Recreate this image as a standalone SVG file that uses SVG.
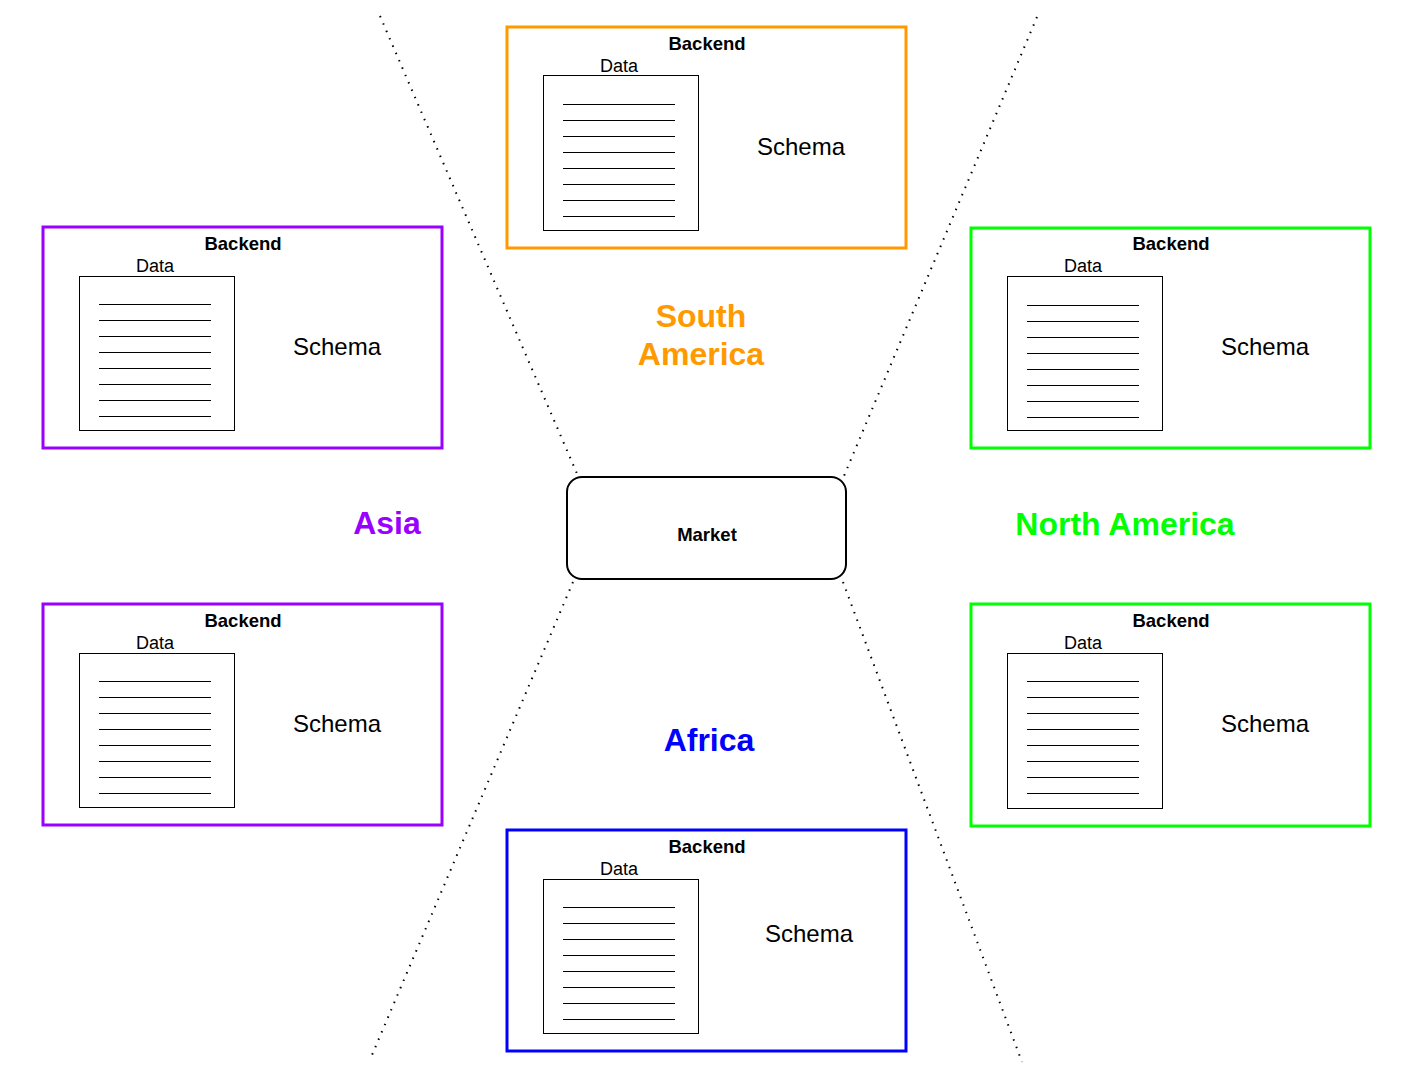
<svg xmlns="http://www.w3.org/2000/svg" width="1403" height="1072" viewBox="0 0 1403 1072">
<defs>
<style>
.bk{fill:#fff;stroke-width:3}
.db{fill:#fff;stroke:#000;stroke-width:1;shape-rendering:crispEdges}
.ln{stroke:#000;stroke-width:1;shape-rendering:crispEdges}
.t{font-family:"Liberation Sans",Arial,sans-serif;text-anchor:middle;fill:#000}
.b{font-weight:bold;font-size:18.5px}
.d{font-size:18px}
.s{font-size:24px}
.r{font-family:"Liberation Sans",Arial,sans-serif;text-anchor:middle;font-weight:bold;font-size:32px}
.dot{stroke:#000;stroke-width:2;stroke-dasharray:1.5 6.5;fill:none}
</style>
<g id="lines">
<line class="ln" x1="20" y1="29" x2="132" y2="29"/>
<line class="ln" x1="20" y1="45" x2="132" y2="45"/>
<line class="ln" x1="20" y1="61" x2="132" y2="61"/>
<line class="ln" x1="20" y1="77" x2="132" y2="77"/>
<line class="ln" x1="20" y1="93" x2="132" y2="93"/>
<line class="ln" x1="20" y1="109" x2="132" y2="109"/>
<line class="ln" x1="20" y1="125" x2="132" y2="125"/>
<line class="ln" x1="20" y1="141" x2="132" y2="141"/>
</g>
</defs>
<rect width="1403" height="1072" fill="#fff"/>
<g id="connectors">
<line class="dot" x1="380" y1="16" x2="578" y2="476"/>
<line class="dot" x1="1037" y1="17" x2="844" y2="476"/>
<line class="dot" x1="573" y1="582" x2="372" y2="1055"/>
<line class="dot" x1="843" y1="582" x2="1022" y2="1062"/>
</g>
<g id="backend-south-america" transform="translate(507,27)">
<rect class="bk" x="0" y="0" width="399" height="221" stroke="#FF9900"/>
<text class="t b" x="200" y="23">Backend</text>
<text class="t d" x="112" y="45">Data</text>
<rect class="db" x="36" y="48" width="155" height="155"/>
<use href="#lines" x="36" y="48"/>
<text class="t s" x="294" y="128">Schema</text>
</g>
<g id="backend-asia-1" transform="translate(43,227)">
<rect class="bk" x="0" y="0" width="399" height="221" stroke="#9900FF"/>
<text class="t b" x="200" y="23">Backend</text>
<text class="t d" x="112" y="45">Data</text>
<rect class="db" x="36" y="49" width="155" height="154"/>
<use href="#lines" x="36" y="48"/>
<text class="t s" x="294" y="128">Schema</text>
</g>
<g id="backend-north-america-1" transform="translate(971,228)">
<rect class="bk" x="0" y="0" width="399" height="220" stroke="#00FF00"/>
<text class="t b" x="200" y="22">Backend</text>
<text class="t d" x="112" y="44">Data</text>
<rect class="db" x="36" y="48" width="155" height="154"/>
<use href="#lines" x="36" y="48"/>
<text class="t s" x="294" y="127">Schema</text>
</g>
<g id="backend-asia-2" transform="translate(43,604)">
<rect class="bk" x="0" y="0" width="399" height="221" stroke="#9900FF"/>
<text class="t b" x="200" y="23">Backend</text>
<text class="t d" x="112" y="45">Data</text>
<rect class="db" x="36" y="49" width="155" height="154"/>
<use href="#lines" x="36" y="48"/>
<text class="t s" x="294" y="128">Schema</text>
</g>
<g id="backend-north-america-2" transform="translate(971,604)">
<rect class="bk" x="0" y="0" width="399" height="222" stroke="#00FF00"/>
<text class="t b" x="200" y="23">Backend</text>
<text class="t d" x="112" y="45">Data</text>
<rect class="db" x="36" y="49" width="155" height="155"/>
<use href="#lines" x="36" y="48"/>
<text class="t s" x="294" y="128">Schema</text>
</g>
<g id="backend-africa" transform="translate(507,830)">
<rect class="bk" x="0" y="0" width="399" height="221" stroke="#0000FF"/>
<text class="t b" x="200" y="23">Backend</text>
<text class="t d" x="112" y="45">Data</text>
<rect class="db" x="36" y="49" width="155" height="154"/>
<use href="#lines" x="36" y="48"/>
<text class="t s" x="302" y="112">Schema</text>
</g>
<g id="market">
<rect x="567" y="477" width="279" height="102" rx="15" fill="#fff" stroke="#000" stroke-width="2"/>
<text class="t b" x="707" y="541">Market</text>
</g>
<g id="label-south-america">
<text class="r" x="701" y="327" fill="#FF9900">South</text>
<text class="r" x="701" y="365" fill="#FF9900">America</text>
</g>
<g id="label-asia"><text class="r" x="387" y="534" fill="#9900FF">Asia</text></g>
<g id="label-north-america"><text class="r" x="1125" y="535" fill="#00FF00">North America</text></g>
<g id="label-africa"><text class="r" x="709" y="751" fill="#0000FF">Africa</text></g>
</svg>
